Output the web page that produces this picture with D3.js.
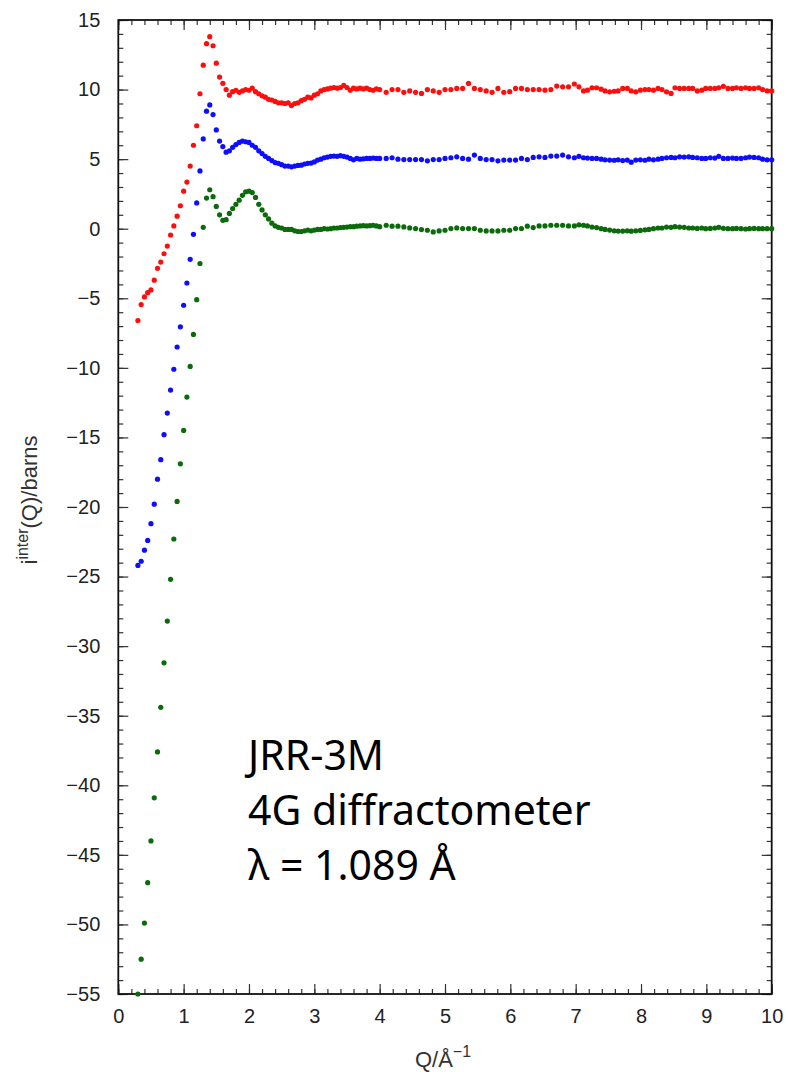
<!DOCTYPE html>
<html lang="en">
<head>
    <meta charset="UTF-8">
    <title>i inter(Q)</title>
    <script src="https://cdn.jsdelivr.net/npm/d3@7"></script>
    <style>
        body { margin: 0; background: #fff; }
        .tick text { font-family: "Liberation Sans", Arial, sans-serif; font-size: 20px; fill: #222; }
        .tick line { stroke: #333; stroke-width: 1.2; }
        .domain { display: none; }
        .axis-title { font-family: "Liberation Sans", Arial, sans-serif; font-size: 22px; fill: #333; }
        .note { font-family: "Noto Sans", sans-serif; font-size: 41px; fill: #000; }
    </style>
</head>
<body>
<svg id="main" width="794" height="1072"></svg>
<script>
    // Q grid shared by all three runs (A^-1)
    let qValues = [
        0.30,0.35,0.40,0.45,0.50,0.55,0.60,0.65,0.70,0.75,
        0.80,0.85,0.90,0.95,1.00,1.05,1.10,1.15,1.20,1.25,
        1.30,1.35,1.40,1.45,1.50,1.55,1.60,1.65,1.70,1.75,
        1.80,1.85,1.90,1.95,2.00,2.05,2.10,2.15,2.20,2.25,
        2.30,2.35,2.40,2.45,2.50,2.55,2.60,2.65,2.70,2.75,
        2.80,2.85,2.90,2.95,3.00,3.05,3.10,3.15,3.20,3.25,
        3.30,3.35,3.40,3.45,3.50,3.55,3.60,3.65,3.70,3.75,
        3.80,3.85,3.90,3.95,4.00,
        4.10,4.19,4.28,4.37,4.46,4.55,4.64,4.73,4.82,4.91,
        5.00,5.09,5.18,5.27,5.36,5.45,5.54,5.63,5.72,5.81,
        5.90,5.99,6.08,6.17,6.26,6.35,6.44,6.53,6.62,6.71,
        6.80,6.89,6.98,
        7.05,7.12,7.18,7.25,7.32,7.39,7.45,7.52,7.59,7.65,
        7.72,7.79,7.85,7.92,7.99,8.06,8.12,8.19,8.26,8.32,
        8.39,8.46,8.52,8.59,8.66,8.73,8.79,8.86,8.93,8.99,
        9.06,9.13,9.19,9.26,9.33,9.40,9.46,9.53,9.60,9.66,
        9.73,9.80,9.86,9.93,10.00
    ];

    // top run (plotted with +10 shift)
    let redValues = [
        -6.6,-5.45,-4.9,-4.6,-4.4,-3.7,-2.85,-2.4,-1.8,-1.25,
        -0.45,0.2,0.9,1.65,2.7,3.35,4.5,6.0,7.4,9.7,
        11.75,13.3,13.8,13.15,11.9,10.9,10.45,10.0,9.6,9.85,
        9.95,9.8,9.9,10.0,9.95,10.1,9.85,9.7,9.55,9.45,
        9.3,9.25,9.15,9.05,9.05,9.0,9.05,8.85,9.0,9.05,
        9.2,9.3,9.45,9.4,9.6,9.7,9.9,10.0,10.05,10.1,
        10.15,10.1,10.15,10.3,10.15,9.95,10.1,10.05,10.1,10.05,
        10.1,10.0,9.95,10.05,10.0,
        9.8,10.0,10.0,9.8,9.9,9.8,9.72,10.0,9.9,9.8,
        10.0,10.0,10.08,10.08,10.44,10.08,10.0,9.9,9.8,10.08,
        9.8,9.85,10.08,10.08,10.0,10.0,10.0,9.96,10.0,10.25,
        10.2,10.2,10.4,
        10.2,9.9,9.96,10.13,10.13,10.03,9.9,9.84,9.88,9.9,
        10.08,10.08,9.9,9.84,9.96,10.0,10.0,9.96,10.08,10.0,
        9.84,9.72,10.13,10.08,10.08,10.08,10.08,9.9,9.96,10.08,
        10.08,10.08,10.13,10.23,10.08,10.08,10.13,10.08,10.13,10.08,
        10.08,10.13,10.0,9.9,9.9
    ];

    // middle run (plotted with +5 shift)
    let blueValues = [
        -24.2,-23.9,-23.1,-22.4,-21.2,-19.8,-18.0,-16.6,-14.8,-13.25,
        -11.6,-10.1,-8.5,-7.05,-5.5,-3.9,-2.2,-0.4,1.85,4.15,
        6.45,8.45,8.9,8.2,7.1,6.3,5.9,5.5,5.6,5.85,
        6.05,6.2,6.3,6.25,6.2,6.0,5.85,5.6,5.4,5.2,
        5.05,4.9,4.75,4.7,4.6,4.5,4.5,4.45,4.5,4.55,
        4.57,4.65,4.7,4.72,4.8,4.93,5.0,5.1,5.15,5.2,
        5.22,5.2,5.25,5.2,5.15,5.05,4.95,5.05,5.0,5.02,
        5.05,5.05,5.08,5.05,5.05,
        5.05,5.1,5.0,4.97,4.97,4.97,4.97,4.88,4.97,4.97,
        5.05,5.1,5.17,5.05,5.0,5.29,5.05,4.97,4.97,4.88,
        4.93,4.93,4.93,5.05,4.97,5.12,5.17,5.12,5.22,5.22,
        5.29,5.17,5.1,
        5.2,5.1,5.08,5.05,5.05,5.0,4.95,4.93,4.92,4.95,
        4.9,4.93,4.78,4.93,4.95,4.92,5.0,4.95,5.0,5.05,
        5.1,5.12,5.1,5.17,5.15,5.17,5.12,5.1,5.05,5.05,
        5.1,5.08,5.2,5.05,5.05,5.08,5.05,5.05,5.1,5.15,
        5.12,5.1,5.0,4.95,4.95
    ];

    // bottom run (no shift)
    let greenValues = [
        -55.0,-52.5,-49.9,-47.0,-44.0,-40.9,-37.6,-34.4,-31.2,-28.2,
        -25.2,-22.3,-19.6,-16.9,-14.5,-12.1,-9.9,-7.6,-5.1,-2.5,
        0.1,2.2,2.8,2.3,1.6,1.0,0.6,0.65,1.1,1.45,
        1.75,2.05,2.4,2.65,2.7,2.6,2.25,1.75,1.35,1.0,
        0.7,0.4,0.2,0.1,0.05,-0.05,-0.05,-0.05,-0.15,-0.2,
        -0.2,-0.15,-0.1,-0.15,-0.1,-0.05,-0.05,0.0,-0.02,0.0,
        0.05,0.05,0.08,0.1,0.12,0.15,0.15,0.18,0.2,0.22,
        0.2,0.22,0.25,0.2,0.15,
        0.25,0.18,0.18,0.13,0.06,0.01,-0.06,-0.11,-0.23,-0.16,
        -0.11,0.01,0.06,0.01,0.01,0.01,-0.11,-0.16,-0.16,-0.16,
        -0.11,-0.11,0.01,0.01,0.18,0.08,0.2,0.2,0.25,0.25,
        0.25,0.2,0.2,
        0.28,0.25,0.2,0.12,0.08,0.0,-0.05,-0.1,-0.15,-0.17,
        -0.17,-0.15,-0.18,-0.15,-0.12,-0.08,-0.05,0.0,0.05,0.05,
        0.12,0.1,0.15,0.12,0.1,0.05,0.05,0.02,0.05,0.0,
        0.02,0.05,0.1,0.03,0.0,0.0,0.02,0.0,-0.02,0.0,
        0.02,0.0,0.0,0.0,0.0
    ];

    let xTickLabels = [0, 1, 2, 3, 4, 5, 6, 7, 8, 9, 10];
    let yTickLabels = [-55, -50, -45, -40, -35, -30, -25, -20, -15, -10, -5, 0, 5, 10, 15];
    let noteLines = ['JRR-3M', '4G diffractometer', 'λ = 1.089 Å'];

    let series = [
        {values: redValues, color: '#ff0d0d'},
        {values: blueValues, color: '#0d0dff'},
        {values: greenValues, color: '#0b6b0b'}
    ];

    let svg = d3.select('svg#main');
    let plot = {left: 118.3, right: 771.7, top: 20, bottom: 994};

    let xScale = d3.scaleLinear().domain([0, 10]).range([plot.left, plot.right]);
    let yScale = d3.scaleLinear().domain([-55, 15]).range([plot.bottom, plot.top]);

    let xMinor = d3.range(0, 10.001, 0.2);
    let yMinor = d3.range(-55, 15.001, 1);

    // minor ticks on all four sides, pointing in
    svg.append('g').attr('transform', `translate(0,${plot.bottom})`)
        .call(d3.axisBottom(xScale).tickValues(xMinor).tickSizeInner(-5).tickSizeOuter(0).tickFormat(''));
    svg.append('g').attr('transform', `translate(0,${plot.top})`)
        .call(d3.axisTop(xScale).tickValues(xMinor).tickSizeInner(-5).tickSizeOuter(0).tickFormat(''));
    svg.append('g').attr('transform', `translate(${plot.left},0)`)
        .call(d3.axisLeft(yScale).tickValues(yMinor).tickSizeInner(-5).tickSizeOuter(0).tickFormat(''));
    svg.append('g').attr('transform', `translate(${plot.right},0)`)
        .call(d3.axisRight(yScale).tickValues(yMinor).tickSizeInner(-5).tickSizeOuter(0).tickFormat(''));

    // major ticks + labels
    svg.append('g').attr('transform', `translate(0,${plot.bottom})`)
        .call(d3.axisBottom(xScale).tickValues(xTickLabels).tickSizeInner(-10).tickSizeOuter(0)
            .tickPadding(15).tickFormat(d3.format('d')));
    svg.append('g').attr('transform', `translate(0,${plot.top})`)
        .call(d3.axisTop(xScale).tickValues(xTickLabels).tickSizeInner(-10).tickSizeOuter(0).tickFormat(''));
    svg.append('g').attr('transform', `translate(${plot.left},0)`)
        .call(d3.axisLeft(yScale).tickValues(yTickLabels).tickSizeInner(-10).tickSizeOuter(0)
            .tickPadding(18).tickFormat(d3.format('d')));
    svg.append('g').attr('transform', `translate(${plot.right},0)`)
        .call(d3.axisRight(yScale).tickValues(yTickLabels).tickSizeInner(-10).tickSizeOuter(0).tickFormat(''));

    svg.append('rect')
        .attr('x', plot.left).attr('y', plot.top)
        .attr('width', plot.right - plot.left).attr('height', plot.bottom - plot.top)
        .attr('fill', 'none').attr('stroke', '#111').attr('stroke-width', 1.8);

    series.forEach(function (s) {
        svg.append('g')
            .selectAll('circle')
            .data(d3.zip(qValues, s.values))
            .join('circle')
            .attr('cx', d => xScale(d[0]))
            .attr('cy', d => yScale(d[1]))
            .attr('r', 2.6)
            .attr('fill', s.color);
    });

    // axis titles
    let yTitle = svg.append('text').attr('class', 'axis-title')
        .attr('transform', 'translate(37,500) rotate(-90)')
        .attr('text-anchor', 'middle');
    yTitle.append('tspan').text('i');
    yTitle.append('tspan').attr('dy', -9).style('font-size', '16px').text('inter');
    yTitle.append('tspan').attr('dy', 9).text('(Q)/barns');

    let xTitle = svg.append('text').attr('class', 'axis-title')
        .attr('x', 443).attr('y', 1067)
        .attr('text-anchor', 'middle');
    xTitle.append('tspan').text('Q/Å');
    xTitle.append('tspan').attr('dy', -10).style('font-size', '16px').text('\u22121');

    svg.selectAll('text.note')
        .data(noteLines)
        .join('text')
        .attr('class', 'note')
        .attr('x', 248)
        .attr('y', (d, i) => 770 + i * 55)
        .text(d => d);
</script>
</body>
</html>
